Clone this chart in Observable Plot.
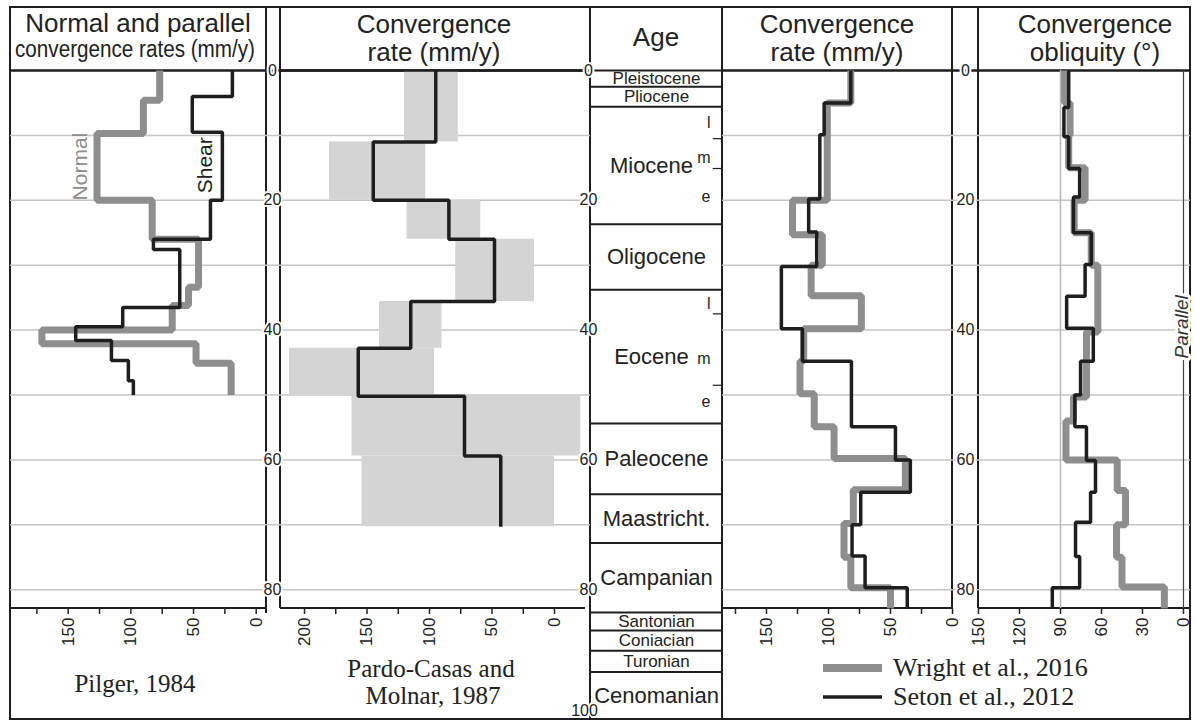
<!DOCTYPE html>
<html><head><meta charset="utf-8">
<script src="https://cdn.jsdelivr.net/npm/d3@7"></script>
<script src="https://cdn.jsdelivr.net/npm/@observablehq/plot@0.6"></script>
<style>
body{margin:0;background:#fff}
#fig{position:relative;width:1195px;height:722px;overflow:hidden;background:#fff}
#fig svg{position:absolute;left:0;top:0}
</style></head><body><div id="fig"></div>
<script>
// ---------------- DATA ----------------
// Pilger, 1984 (normal and shear convergence rates, mm/y)
const pilgerNormalAges = [0, 4.6, 9.7, 20, 26, 33.4, 36.2, 40, 42.1, 45.1, 50];
const pilgerNormal     = [77, 90, 127, 83, 46, 54, 67, 171, 48, 20];
const pilgerShearAges  = [0, 4, 9.5, 20, 26, 27.6, 36.5, 39.5, 41.6, 44.7, 47.8, 50];
const pilgerShear      = [19, 51, 27, 36.5, 82, 61, 106.5, 144, 115.5, 102, 98];
// Pardo-Casas and Molnar, 1987
const pardoAges = [0, 11, 20, 26, 35.6, 42.8, 50.2, 59.4, 70.3];
const pardoRate = [95, 145, 84.5, 48, 115, 157, 72, 43];
const pardoMin  = [77, 103, 59, 16, 90, 96, -21, 0];
const pardoMax  = [120, 180, 118, 79, 140, 212, 162, 154];
// Wright et al., 2016 and Seton et al., 2012: convergence rate
const wrightRateAges = [0, 5, 20, 25.3, 30, 34.7, 39.8, 44.8, 49.8, 54.9, 59.8, 64.6, 69.8, 75, 79.7, 82.9];
const wrightRate     = [82, 101, 129, 105, 114, 73.5, 120, 123, 111.5, 95.5, 38, 80, 87.5, 82, 50];
const setonRateAges  = [0, 5, 9.9, 19.8, 24.9, 30.2, 39.8, 44.8, 54.9, 60, 65, 70, 74.8, 79.7, 82.9];
const setonRate      = [82, 103.5, 107, 116, 109.5, 138, 121, 81.5, 46, 34, 74, 81, 70.5, 36.5];
// convergence obliquity (deg)
const wrightOblAges = [0, 5, 10, 15, 20, 25, 30, 40.3, 50.3, 54, 60, 64.7, 70, 75, 79.6, 82.9];
const wrightObl     = [87, 83, 84, 72, 80, 67.5, 62.7, 71, 80.5, 86, 48.5, 42.4, 49, 45, 14];
const setonOblAges  = [0, 5.7, 10.2, 15.1, 19.5, 25, 29.9, 34.8, 39.7, 44.8, 50, 54.9, 60.1, 65, 69.6, 74.9, 79.7, 82.9];
const setonObl      = [84, 87.5, 84, 76, 80.5, 67.5, 72, 85.5, 66, 75.3, 79.5, 71, 64.4, 68, 79, 76, 96];
// geological time scale
const epochNames = ["Pleistocene","Pliocene","Miocene","Oligocene","Eocene","Paleocene","Maastricht.","Campanian","Santonian","Coniacian","Turonian","Cenomanian"];
const epochTops  = [0, 2.5, 5.6, 23.7, 33.8, 54.4, 65.3, 72.8, 83.5, 86.3, 89.4, 92.7];
const epochBases = [2.5, 5.6, 23.7, 33.8, 54.4, 65.3, 72.8, 83.5, 86.3, 89.4, 92.7, 100];
const subdivided = ["Miocene", "Eocene"];
const subLabels = ["l","m","e","l","m","e"];
const subAges   = [8, 13.4, 19.4, 35.9, 44.4, 51.1];
const subBounds = [10.5, 15.1, 37.5, 48.5];
// ticks
const ageTicks = [0, 20, 40, 60, 80];
const ageTickBottom = [100];
const gridAges = [10, 20, 30, 40, 50, 60, 70, 80];
const rateMajor = [150, 100, 50, 0];
const rateMinor = [175, 125, 75, 25];
const pardoMajor = [200, 150, 100, 50, 0];
const pardoMinor = [175, 125, 75, 25];
const oblTicks = [150, 120, 90, 60, 30, 0];
const axisBottomAge = 82.9;

// ---------------- STYLE / LAYOUT ----------------
const W = 1195, H = 722;
const sans = "'Liberation Sans', Arial, Helvetica, sans-serif";
const serif = "'Liberation Serif', 'Times New Roman', serif";
const dark = "#1e1e1e", greyLine = "#8e8e8e", boxFill = "#d4d4d4", gridCol = "#c6c6c6";
const fig = document.getElementById("fig");

function steps(ages, vals) {
  const pts = vals.map((v, i) => ({age: ages[i], v}));
  pts.push({age: ages[ages.length - 1], v: vals[vals.length - 1]});
  return pts;
}
function panel(left, right, x, marks) {
  return Plot.plot({
    width: W, height: H,
    marginTop: 7, marginBottom: H - 608, marginLeft: left, marginRight: W - right,
    x: {...x, label: null},
    y: {domain: [0, 100], range: [70, 719], axis: null, label: null},
    style: `position:absolute;left:0;top:0;background:transparent;overflow:visible;font-family:${sans};color:#222`,
    marks
  });
}
const axes = (major, minor) => [
  Plot.axisX({anchor: "bottom", ticks: minor, tickSize: 6, tickFormat: () => "", strokeWidth: 1.5, label: null}),
  Plot.axisX({anchor: "bottom", ticks: major, tickSize: 6, tickPadding: 3, tickRotate: -90, fontSize: 17, strokeWidth: 1.5, label: null})
];
const stepLine = (ages, vals, stroke, strokeWidth) =>
  Plot.line(steps(ages, vals), {x: "v", y: "age", curve: "step-before", stroke, strokeWidth, strokeLinejoin: "miter", strokeLinecap: "butt"});
const gapLabels = (anchor, dx, ticks, dy = 0) =>
  Plot.text(ticks, {y: d => d, text: d => String(d), frameAnchor: anchor, dx, dy, textAnchor: "middle",
    fontSize: 16, fill: "#222", stroke: "white", strokeWidth: 4});

// ---------------- BASE (frame, titles, captions, legend) ----------------
const base = d3.create("svg").attr("width", W).attr("height", H).attr("font-family", sans).attr("fill", "#222");
const ln = (x1, y1, x2, y2, w = 2) => base.append("line").attr("x1", x1).attr("y1", y1).attr("x2", x2).attr("y2", y2)
  .attr("stroke", dark).attr("stroke-width", w);
base.append("rect").attr("x", 10).attr("y", 7).attr("width", 1180).attr("height", 712)
  .attr("fill", "none").attr("stroke", dark).attr("stroke-width", 2);
ln(266, 7, 266, 613); ln(280, 7, 280, 608); ln(590, 7, 590, 719); ln(722, 7, 722, 719);
ln(952, 7, 952, 608); ln(978, 7, 978, 608);
ln(10, 608, 266, 608); ln(280, 608, 585, 608); ln(722, 608, 952, 608); ln(978, 608, 1190, 608);
const txt = (s, x, y, size, opts = {}) => {
  const t = base.append("text").attr("x", x).attr("y", y).attr("font-size", size)
    .attr("text-anchor", opts.anchor || "middle").text(s);
  if (opts.family) t.attr("font-family", opts.family);
  if (opts.len) t.attr("textLength", opts.len).attr("lengthAdjust", "spacingAndGlyphs");
  return t;
};
txt("Normal and parallel", 138, 32, 26);
txt("convergence rates (mm/y)", 135, 57, 23, {len: 240});
txt("Convergence", 434, 33, 26);
txt("rate (mm/y)", 434, 61, 26);
txt("Age", 656, 46, 26);
txt("Convergence", 837, 33, 26);
txt("rate (mm/y)", 837, 61, 26);
txt("Convergence", 1095, 33, 26);
txt("obliquity (°)", 1095, 61, 26);
txt("Pilger, 1984", 135, 692, 25, {family: serif});
txt("Pardo-Casas and", 431, 677, 25, {family: serif});
txt("Molnar, 1987", 433, 704, 25, {family: serif});
ln(823, 668, 882, 668, 8).attr("stroke", greyLine);
ln(823, 697, 882, 697, 3.5);
txt("Wright et al., 2016", 893, 676, 26, {family: serif, anchor: "start"});
txt("Seton et al., 2012", 893, 705, 26, {family: serif, anchor: "start"});
fig.appendChild(base.node());

// ---------------- PANEL 1: Pilger ----------------
fig.appendChild(panel(10, 590, {domain: [150, 0], range: [67.7, 255.7]}, [
  Plot.ruleY(gridAges, {stroke: gridCol, strokeWidth: 1.5}),
  Plot.ruleY([0], {stroke: dark, strokeWidth: 2.5}),
  stepLine(pilgerNormalAges, pilgerNormal, greyLine, 7),
  stepLine(pilgerShearAges, pilgerShear, dark, 3.5),
  Plot.text(["Normal"], {x: 140, y: 14.8, text: d => d, rotate: -90, fontSize: 21, fill: greyLine}),
  Plot.text(["Shear"], {x: 40.5, y: 14.6, text: d => d, rotate: -90, fontSize: 21, fill: dark}),
  ...axes(rateMajor, rateMinor)
]));

// ---------------- PANEL 2: Pardo-Casas & Molnar ----------------
const pardoBoxes = pardoMin.map((lo, i) => ({lo, hi: pardoMax[i], top: pardoAges[i], bot: pardoAges[i + 1]}));
fig.appendChild(panel(280, 590, {domain: [200, 0], range: [304, 554]}, [
  Plot.rect(pardoBoxes, {x1: "lo", x2: "hi", y1: "top", y2: "bot", fill: boxFill}),
  Plot.ruleY([0], {stroke: dark, strokeWidth: 2.5}),
  stepLine(pardoAges, pardoRate, dark, 3.5),
  ...axes(pardoMajor, pardoMinor),
  gapLabels("left", -8, ageTicks)
]));

// ---------------- AGE COLUMN ----------------
const epochs = epochNames.map((name, i) => ({name, mid: (epochTops[i] + epochBases[i]) / 2, span: epochBases[i] - epochTops[i]}));
const subs = subLabels.map((s, i) => ({s, age: subAges[i]}));
fig.appendChild(panel(590, 722, {domain: [0, 1], range: [590, 722], axis: null}, [
  Plot.ruleY(epochTops, {stroke: dark, strokeWidth: 2}),
  Plot.ruleY(subBounds, {x1: 0.93, x2: 1, stroke: dark, strokeWidth: 1.2}),
  Plot.text(epochs.filter(d => !subdivided.includes(d.name) && d.span >= 5), {x: 0.5, y: "mid", text: "name", fontSize: 22, fill: "#222"}),
  Plot.text(epochs.filter(d => d.span < 5), {x: 0.5, y: "mid", text: "name", fontSize: 17, fill: "#222"}),
  Plot.text(epochs.filter(d => subdivided.includes(d.name)), {x: 0.5, y: "mid", text: "name", dx: -5, fontSize: 22, fill: "#222"}),
  Plot.text(subs, {y: "age", text: "s", frameAnchor: "right", dx: -12, fontSize: 16, fill: "#222"}),
  gapLabels("left", -2, ageTicks),
  gapLabels("left", -6, ageTickBottom, -9)
]));

// ---------------- PANEL 4: convergence rate ----------------
fig.appendChild(panel(722, 1190, {domain: [150, 0], range: [766, 952]}, [
  Plot.ruleY(gridAges, {stroke: gridCol, strokeWidth: 1.5}),
  Plot.ruleY([0], {stroke: dark, strokeWidth: 2.5}),
  stepLine(wrightRateAges, wrightRate, greyLine, 7),
  stepLine(setonRateAges, setonRate, dark, 3.5),
  ...axes(rateMajor, rateMinor)
]));

// ---------------- PANEL 5: obliquity ----------------
fig.appendChild(panel(978, 1190, {domain: [150, 0], range: [978, 1183]}, [
  Plot.ruleX([90], {y1: 0, y2: axisBottomAge, stroke: "#b8b8b8", strokeWidth: 1.5}),
  Plot.ruleX([0], {y1: 0, y2: axisBottomAge, stroke: "#444", strokeWidth: 1.2}),
  stepLine(wrightOblAges, wrightObl, greyLine, 7),
  stepLine(setonOblAges, setonObl, dark, 3.5),
  Plot.text(["Parallel"], {x: 0, y: 39.5, text: d => d, rotate: -90, dx: -2, fontSize: 19, fontStyle: "italic",
    fill: "#333", stroke: "white", strokeWidth: 6}),
  Plot.axisX({anchor: "bottom", ticks: oblTicks, tickSize: 6, tickPadding: 3, tickRotate: -90, fontSize: 17, strokeWidth: 1.5, label: null}),
  gapLabels("left", -13, ageTicks)
]));
</script></body></html>
